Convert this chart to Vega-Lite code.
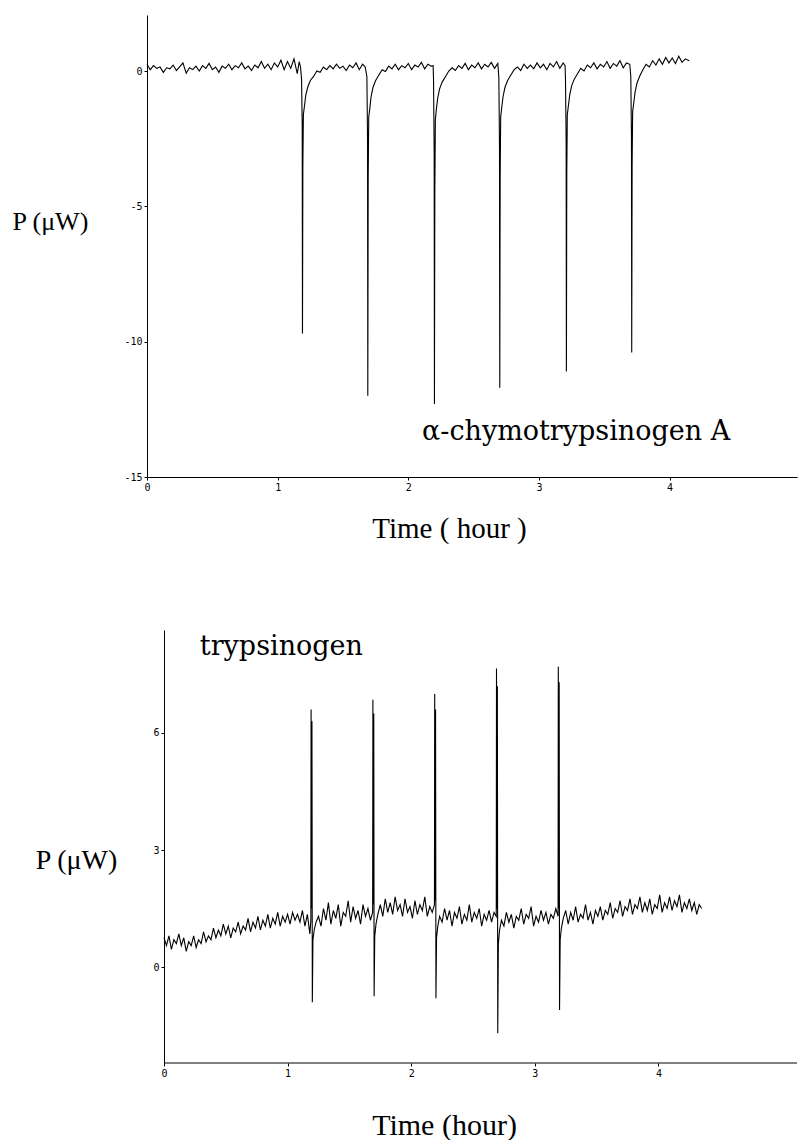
{
"$schema": "https://vega.github.io/schema/vega-lite/v6.json",
"background": "white",
"padding": {"left": 12, "top": 15, "right": 0, "bottom": 0},
"bounds": "flush",
"spacing": 153,
"config": {
  "view": {"stroke": null},
  "axis": {"domainColor": "black", "domainWidth": 1, "tickColor": "black", "tickSize": 3, "labelFont": "DejaVu Sans Mono", "labelFontSize": 10, "labelColor": "black", "labelFlush": false, "labelOverlap": false, "labelExpr": "'' + datum.value", "grid": false, "titleFont": "Liberation Serif", "titleFontWeight": "normal", "titleColor": "black"}
},
"datasets": {
"top": [
{"t":0.000,"p":0.25},{"t":0.025,"p":0.05},{"t":0.050,"p":0.20},{"t":0.075,"p":0.10},{"t":0.100,"p":0.15},{"t":0.125,"p":-0.05},{"t":0.150,"p":0.12},{"t":0.175,"p":0.08},{"t":0.200,"p":0.22},{"t":0.225,"p":0.02},{"t":0.250,"p":0.15},{"t":0.275,"p":0.30},{"t":0.300,"p":-0.08},{"t":0.325,"p":0.12},{"t":0.350,"p":0.05},{"t":0.375,"p":0.18},{"t":0.400,"p":0.00},{"t":0.425,"p":0.20},{"t":0.450,"p":0.10},{"t":0.475,"p":0.28},{"t":0.500,"p":0.05},{"t":0.525,"p":0.15},{"t":0.550,"p":-0.05},{"t":0.575,"p":0.18},{"t":0.600,"p":0.10},{"t":0.625,"p":0.25},{"t":0.650,"p":0.05},{"t":0.675,"p":0.20},{"t":0.700,"p":0.12},{"t":0.725,"p":0.30},{"t":0.750,"p":0.08},{"t":0.775,"p":0.18},{"t":0.800,"p":0.02},{"t":0.825,"p":0.22},{"t":0.850,"p":0.12},{"t":0.875,"p":0.35},{"t":0.900,"p":0.10},{"t":0.925,"p":0.25},{"t":0.950,"p":0.05},{"t":0.975,"p":0.30},{"t":1.000,"p":0.15},{"t":1.025,"p":0.40},{"t":1.050,"p":0.05},{"t":1.075,"p":0.35},{"t":1.100,"p":0.10},{"t":1.125,"p":0.45},{"t":1.150,"p":-0.10},{"t":1.165,"p":0.35},{"t":1.175,"p":0.15},{"t":1.183,"p":-0.30},{"t":1.188,"p":-2.0},{"t":1.190,"p":-9.7},{"t":1.193,"p":-3.5},{"t":1.197,"p":-1.6},{"t":1.205,"p":-1.3},{"t":1.215,"p":-0.9},{"t":1.230,"p":-0.6},{"t":1.250,"p":-0.35},{"t":1.275,"p":-0.2},{"t":1.300,"p":0.0},{"t":1.325,"p":-0.05},{"t":1.350,"p":0.15},{"t":1.375,"p":0.05},{"t":1.400,"p":0.20},{"t":1.425,"p":0.08},{"t":1.450,"p":0.25},{"t":1.475,"p":0.10},{"t":1.500,"p":0.18},{"t":1.525,"p":0.02},{"t":1.550,"p":0.22},{"t":1.575,"p":0.12},{"t":1.600,"p":0.30},{"t":1.625,"p":0.05},{"t":1.650,"p":0.25},{"t":1.670,"p":0.15},{"t":1.683,"p":-0.2},{"t":1.688,"p":-2.5},{"t":1.690,"p":-12.0},{"t":1.693,"p":-4.0},{"t":1.697,"p":-1.7},{"t":1.705,"p":-1.4},{"t":1.715,"p":-0.95},{"t":1.730,"p":-0.6},{"t":1.750,"p":-0.35},{"t":1.775,"p":-0.15},{"t":1.800,"p":0.05},{"t":1.825,"p":-0.02},{"t":1.850,"p":0.18},{"t":1.875,"p":0.08},{"t":1.900,"p":0.25},{"t":1.925,"p":0.05},{"t":1.950,"p":0.20},{"t":1.975,"p":0.12},{"t":2.000,"p":0.28},{"t":2.025,"p":0.05},{"t":2.050,"p":0.22},{"t":2.075,"p":0.15},{"t":2.100,"p":0.32},{"t":2.125,"p":0.08},{"t":2.150,"p":0.25},{"t":2.175,"p":0.18},{"t":2.190,"p":0.20},{"t":2.193,"p":-0.3},{"t":2.198,"p":-3.0},{"t":2.200,"p":-12.3},{"t":2.203,"p":-4.5},{"t":2.207,"p":-1.8},{"t":2.215,"p":-1.4},{"t":2.225,"p":-1.0},{"t":2.240,"p":-0.65},{"t":2.260,"p":-0.4},{"t":2.285,"p":-0.2},{"t":2.310,"p":0.0},{"t":2.335,"p":0.12},{"t":2.360,"p":0.02},{"t":2.385,"p":0.20},{"t":2.410,"p":0.10},{"t":2.435,"p":0.28},{"t":2.460,"p":0.05},{"t":2.485,"p":0.22},{"t":2.510,"p":0.12},{"t":2.535,"p":0.30},{"t":2.560,"p":0.08},{"t":2.585,"p":0.25},{"t":2.610,"p":0.15},{"t":2.635,"p":0.32},{"t":2.660,"p":0.10},{"t":2.685,"p":0.28},{"t":2.693,"p":-0.25},{"t":2.698,"p":-2.8},{"t":2.700,"p":-11.7},{"t":2.703,"p":-4.0},{"t":2.707,"p":-1.7},{"t":2.715,"p":-1.35},{"t":2.725,"p":-0.95},{"t":2.740,"p":-0.6},{"t":2.760,"p":-0.35},{"t":2.785,"p":-0.15},{"t":2.810,"p":0.05},{"t":2.835,"p":0.15},{"t":2.860,"p":0.02},{"t":2.885,"p":0.25},{"t":2.910,"p":0.10},{"t":2.935,"p":0.22},{"t":2.960,"p":0.08},{"t":2.985,"p":0.30},{"t":3.010,"p":0.12},{"t":3.035,"p":0.25},{"t":3.060,"p":0.05},{"t":3.085,"p":0.28},{"t":3.110,"p":0.15},{"t":3.135,"p":0.35},{"t":3.160,"p":0.10},{"t":3.185,"p":0.30},{"t":3.200,"p":0.20},{"t":3.203,"p":-0.3},{"t":3.208,"p":-2.6},{"t":3.210,"p":-11.1},{"t":3.213,"p":-3.8},{"t":3.217,"p":-1.6},{"t":3.225,"p":-1.3},{"t":3.235,"p":-0.9},{"t":3.250,"p":-0.55},{"t":3.270,"p":-0.3},{"t":3.295,"p":-0.1},{"t":3.320,"p":0.1},{"t":3.345,"p":0.0},{"t":3.370,"p":0.22},{"t":3.395,"p":0.12},{"t":3.420,"p":0.30},{"t":3.445,"p":0.08},{"t":3.470,"p":0.25},{"t":3.495,"p":0.15},{"t":3.520,"p":0.35},{"t":3.545,"p":0.10},{"t":3.570,"p":0.28},{"t":3.595,"p":0.18},{"t":3.620,"p":0.38},{"t":3.645,"p":0.12},{"t":3.670,"p":0.30},{"t":3.695,"p":0.25},{"t":3.703,"p":-0.2},{"t":3.708,"p":-2.4},{"t":3.710,"p":-10.4},{"t":3.713,"p":-3.5},{"t":3.717,"p":-1.5},{"t":3.725,"p":-1.2},{"t":3.735,"p":-0.8},{"t":3.750,"p":-0.45},{"t":3.770,"p":-0.2},{"t":3.795,"p":0.05},{"t":3.820,"p":0.25},{"t":3.845,"p":0.15},{"t":3.870,"p":0.38},{"t":3.895,"p":0.22},{"t":3.920,"p":0.45},{"t":3.945,"p":0.25},{"t":3.970,"p":0.50},{"t":3.995,"p":0.30},{"t":4.020,"p":0.48},{"t":4.045,"p":0.28},{"t":4.070,"p":0.55},{"t":4.095,"p":0.32},{"t":4.120,"p":0.45},{"t":4.150,"p":0.38}
],
"bot": [
{"t":0.00,"p":0.75},{"t":0.02,"p":0.55},{"t":0.04,"p":0.80},{"t":0.06,"p":0.45},{"t":0.08,"p":0.70},{"t":0.10,"p":0.60},{"t":0.12,"p":0.85},{"t":0.14,"p":0.55},{"t":0.16,"p":0.75},{"t":0.18,"p":0.40},{"t":0.20,"p":0.65},{"t":0.22,"p":0.55},{"t":0.24,"p":0.80},{"t":0.26,"p":0.50},{"t":0.28,"p":0.70},{"t":0.30,"p":0.60},{"t":0.32,"p":0.90},{"t":0.34,"p":0.65},{"t":0.36,"p":0.80},{"t":0.38,"p":0.70},{"t":0.40,"p":1.00},{"t":0.42,"p":0.75},{"t":0.44,"p":0.95},{"t":0.46,"p":0.80},{"t":0.48,"p":1.10},{"t":0.50,"p":0.85},{"t":0.52,"p":1.05},{"t":0.54,"p":0.75},{"t":0.56,"p":1.00},{"t":0.58,"p":0.90},{"t":0.60,"p":1.15},{"t":0.62,"p":0.85},{"t":0.64,"p":1.05},{"t":0.66,"p":0.95},{"t":0.68,"p":1.25},{"t":0.70,"p":0.90},{"t":0.72,"p":1.15},{"t":0.74,"p":1.00},{"t":0.76,"p":1.30},{"t":0.78,"p":0.95},{"t":0.80,"p":1.20},{"t":0.82,"p":1.05},{"t":0.84,"p":1.35},{"t":0.86,"p":1.00},{"t":0.88,"p":1.25},{"t":0.90,"p":1.10},{"t":0.92,"p":1.40},{"t":0.94,"p":1.05},{"t":0.96,"p":1.30},{"t":0.98,"p":1.15},{"t":1.00,"p":1.35},{"t":1.02,"p":1.10},{"t":1.04,"p":1.40},{"t":1.06,"p":1.20},{"t":1.08,"p":1.35},{"t":1.10,"p":1.15},{"t":1.12,"p":1.45},{"t":1.14,"p":1.05},{"t":1.16,"p":1.35},{"t":1.18,"p":0.85},{"t":1.188,"p":1.2},{"t":1.190,"p":6.6},{"t":1.193,"p":1.5},{"t":1.197,"p":6.3},{"t":1.200,"p":-0.9},{"t":1.205,"p":0.7},{"t":1.215,"p":0.95},{"t":1.23,"p":1.15},{"t":1.25,"p":1.30},{"t":1.27,"p":1.05},{"t":1.29,"p":1.50},{"t":1.31,"p":1.20},{"t":1.33,"p":1.65},{"t":1.35,"p":1.10},{"t":1.37,"p":1.45},{"t":1.39,"p":1.25},{"t":1.41,"p":1.60},{"t":1.43,"p":1.05},{"t":1.45,"p":1.40},{"t":1.47,"p":1.30},{"t":1.49,"p":1.70},{"t":1.51,"p":1.15},{"t":1.53,"p":1.55},{"t":1.55,"p":1.25},{"t":1.57,"p":1.45},{"t":1.59,"p":1.10},{"t":1.61,"p":1.60},{"t":1.63,"p":1.30},{"t":1.65,"p":1.50},{"t":1.67,"p":1.20},{"t":1.688,"p":1.4},{"t":1.690,"p":6.85},{"t":1.693,"p":1.6},{"t":1.697,"p":6.5},{"t":1.700,"p":-0.75},{"t":1.705,"p":0.8},{"t":1.715,"p":1.1},{"t":1.73,"p":1.35},{"t":1.75,"p":1.60},{"t":1.77,"p":1.30},{"t":1.79,"p":1.75},{"t":1.81,"p":1.40},{"t":1.83,"p":1.65},{"t":1.85,"p":1.35},{"t":1.87,"p":1.80},{"t":1.89,"p":1.45},{"t":1.91,"p":1.60},{"t":1.93,"p":1.30},{"t":1.95,"p":1.75},{"t":1.97,"p":1.40},{"t":1.99,"p":1.55},{"t":2.01,"p":1.25},{"t":2.03,"p":1.70},{"t":2.05,"p":1.35},{"t":2.07,"p":1.60},{"t":2.09,"p":1.45},{"t":2.11,"p":1.80},{"t":2.13,"p":1.30},{"t":2.15,"p":1.55},{"t":2.17,"p":1.40},{"t":2.188,"p":1.6},{"t":2.190,"p":7.0},{"t":2.193,"p":1.7},{"t":2.197,"p":6.6},{"t":2.200,"p":-0.8},{"t":2.205,"p":0.75},{"t":2.215,"p":1.05},{"t":2.23,"p":1.30},{"t":2.25,"p":1.15},{"t":2.27,"p":1.50},{"t":2.29,"p":1.20},{"t":2.31,"p":1.45},{"t":2.33,"p":1.05},{"t":2.35,"p":1.40},{"t":2.37,"p":1.25},{"t":2.39,"p":1.55},{"t":2.41,"p":1.10},{"t":2.43,"p":1.35},{"t":2.45,"p":1.20},{"t":2.47,"p":1.60},{"t":2.49,"p":1.15},{"t":2.51,"p":1.40},{"t":2.53,"p":1.25},{"t":2.55,"p":1.50},{"t":2.57,"p":1.05},{"t":2.59,"p":1.35},{"t":2.61,"p":1.20},{"t":2.63,"p":1.45},{"t":2.65,"p":1.15},{"t":2.67,"p":1.40},{"t":2.688,"p":1.3},{"t":2.690,"p":7.65},{"t":2.693,"p":1.5},{"t":2.697,"p":7.2},{"t":2.700,"p":-1.7},{"t":2.705,"p":0.6},{"t":2.715,"p":0.95},{"t":2.73,"p":1.20},{"t":2.75,"p":1.05},{"t":2.77,"p":1.40},{"t":2.79,"p":1.15},{"t":2.81,"p":1.35},{"t":2.83,"p":1.00},{"t":2.85,"p":1.30},{"t":2.87,"p":1.20},{"t":2.89,"p":1.50},{"t":2.91,"p":1.10},{"t":2.93,"p":1.35},{"t":2.95,"p":1.25},{"t":2.97,"p":1.55},{"t":2.99,"p":1.05},{"t":3.01,"p":1.30},{"t":3.03,"p":1.15},{"t":3.05,"p":1.45},{"t":3.07,"p":1.20},{"t":3.09,"p":1.40},{"t":3.11,"p":1.10},{"t":3.13,"p":1.35},{"t":3.15,"p":1.25},{"t":3.17,"p":1.50},{"t":3.188,"p":1.3},{"t":3.190,"p":7.7},{"t":3.193,"p":1.5},{"t":3.197,"p":7.3},{"t":3.200,"p":-1.1},{"t":3.205,"p":0.7},{"t":3.215,"p":1.0},{"t":3.23,"p":1.25},{"t":3.25,"p":1.45},{"t":3.27,"p":1.10},{"t":3.29,"p":1.40},{"t":3.31,"p":1.20},{"t":3.33,"p":1.55},{"t":3.35,"p":1.15},{"t":3.37,"p":1.35},{"t":3.39,"p":1.25},{"t":3.41,"p":1.60},{"t":3.43,"p":1.20},{"t":3.45,"p":1.40},{"t":3.47,"p":1.10},{"t":3.49,"p":1.45},{"t":3.51,"p":1.30},{"t":3.53,"p":1.55},{"t":3.55,"p":1.20},{"t":3.57,"p":1.45},{"t":3.59,"p":1.35},{"t":3.61,"p":1.65},{"t":3.63,"p":1.25},{"t":3.65,"p":1.50},{"t":3.67,"p":1.40},{"t":3.69,"p":1.70},{"t":3.71,"p":1.30},{"t":3.73,"p":1.55},{"t":3.75,"p":1.45},{"t":3.77,"p":1.75},{"t":3.79,"p":1.35},{"t":3.81,"p":1.60},{"t":3.83,"p":1.50},{"t":3.85,"p":1.80},{"t":3.87,"p":1.40},{"t":3.89,"p":1.65},{"t":3.91,"p":1.45},{"t":3.93,"p":1.75},{"t":3.95,"p":1.35},{"t":3.97,"p":1.60},{"t":3.99,"p":1.50},{"t":4.01,"p":1.85},{"t":4.03,"p":1.40},{"t":4.05,"p":1.65},{"t":4.07,"p":1.50},{"t":4.09,"p":1.80},{"t":4.11,"p":1.45},{"t":4.13,"p":1.70},{"t":4.15,"p":1.55},{"t":4.17,"p":1.85},{"t":4.19,"p":1.40},{"t":4.21,"p":1.65},{"t":4.23,"p":1.50},{"t":4.25,"p":1.75},{"t":4.27,"p":1.45},{"t":4.29,"p":1.65},{"t":4.31,"p":1.35},{"t":4.33,"p":1.60},{"t":4.35,"p":1.50}
]
},
"vconcat": [
{
  "width": 650,
  "height": 462,
  "layer": [
    {
      "data": {"name": "top"},
      "mark": {"type": "line", "color": "black", "strokeWidth": 1.1, "interpolate": "linear"},
      "encoding": {
        "x": {"field": "t", "type": "quantitative", "scale": {"domain": [0, 4.975], "nice": false, "zero": false},
              "axis": {"values": [0, 1, 2, 3, 4], "labelPadding": 2, "title": "Time ( hour )", "titleFontSize": 29, "titleAlign": "center", "titleBaseline": "alphabetic", "titleX": 302, "titleY": 60}},
        "y": {"field": "p", "type": "quantitative", "scale": {"domain": [-15, 2.07], "nice": false, "zero": false},
              "axis": {"values": [0, -5, -10, -15], "labelPadding": 2, "title": "P (μW)", "titleFontSize": 26, "titleAngle": 0, "titleAlign": "left", "titleBaseline": "alphabetic", "titleX": -135, "titleY": 214}}
      }
    },
    {
      "data": {"values": [{}]},
      "mark": {"type": "text", "font": "DejaVu Serif", "fontSize": 27, "align": "left", "baseline": "alphabetic", "color": "black"},
      "encoding": {"x": {"datum": 2.105}, "y": {"datum": -13.65}, "text": {"value": "α-chymotrypsinogen A"}}
    }
  ]
},
{
  "width": 650,
  "height": 433,
  "layer": [
    {
      "data": {"name": "bot"},
      "mark": {"type": "line", "color": "black", "strokeWidth": 1.1, "interpolate": "linear"},
      "encoding": {
        "x": {"field": "t", "type": "quantitative", "scale": {"domain": [-0.1375, 5.121], "nice": false, "zero": false},
              "axis": {"values": [0, 1, 2, 3, 4], "domain": false, "labelPadding": 2, "title": "Time (hour)", "titleFontSize": 30, "titleAlign": "center", "titleBaseline": "alphabetic", "titleX": 297, "titleY": 71}},
        "y": {"field": "p", "type": "quantitative", "scale": {"domain": [-2.46, 8.64], "nice": false, "zero": false},
              "axis": {"values": [0, 3, 6], "offset": -17, "labelPadding": 2, "title": "P (μW)", "titleFontSize": 28, "titleAngle": 0, "titleAlign": "center", "titleBaseline": "alphabetic", "titleX": -88, "titleY": 238}}
      }
    },
    {
      "data": {"values": [{}]},
      "mark": {"type": "rule", "color": "black", "strokeWidth": 1},
      "encoding": {"x": {"datum": 0}, "x2": {"datum": 5.121}, "y": {"datum": -2.46}}
    },
    {
      "data": {"values": [{}]},
      "mark": {"type": "text", "font": "DejaVu Serif", "fontSize": 27, "align": "left", "baseline": "alphabetic", "color": "black"},
      "encoding": {"x": {"datum": 0.29}, "y": {"datum": 8.0}, "text": {"value": "trypsinogen"}}
    }
  ]
}
]
}
